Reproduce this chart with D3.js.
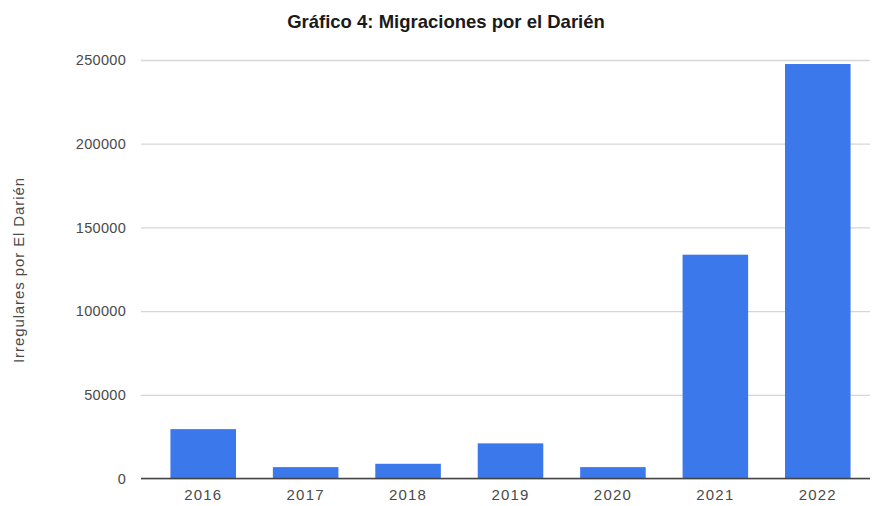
<!DOCTYPE html>
<html>
<head>
<meta charset="utf-8">
<script src="https://cdn.jsdelivr.net/npm/d3@7"></script>
<style>
  html, body { margin: 0; padding: 0; background: #fff; }
  svg { display: block; font-family: "Liberation Sans", Arial, sans-serif; }
</style>
</head>
<body>
<svg id="chart" width="884" height="506"></svg>
<script>
// Irregular crossings through the Darién gap, by year
const years = ["2016", "2017", "2018", "2019", "2020", "2021", "2022"];
const crossings = [29500, 6800, 8800, 21000, 6800, 133700, 247600];
const yTicks = [0, 50000, 100000, 150000, 200000, 250000];

const titleText = "Gráfico 4: Migraciones por el Darién";
const yTitle = "Irregulares por El Darién";

const svg = d3.select("#chart");
const plot = { left: 141, right: 870, top: 60, bottom: 478.5 };

const x = d3.scaleBand()
  .domain(years)
  .range([152, 869])
  .paddingInner(0.36)
  .paddingOuter(0.18);

const y = d3.scaleLinear()
  .domain([0, 250000])
  .range([plot.bottom, plot.top]);

// gridlines and value labels
const yAxis = d3.axisLeft(y)
  .tickValues(yTicks)
  .tickFormat(d3.format("d"))
  .tickSize(-(plot.right - plot.left))
  .tickPadding(15);

const gy = svg.append("g")
  .attr("transform", `translate(${plot.left},0)`)
  .call(yAxis);
gy.select(".domain").remove();
gy.selectAll(".tick line").attr("stroke", "#d6d6d6").attr("stroke-width", 1.3);
gy.selectAll(".tick text")
  .attr("fill", "#4a4a4a")
  .style("font-size", "14.5px")
  .style("letter-spacing", "0.3px");

// bars
svg.append("g").selectAll("rect")
  .data(years.map((yr, i) => ({ yr, v: crossings[i] })))
  .join("rect")
  .attr("x", d => x(d.yr))
  .attr("width", x.bandwidth())
  .attr("y", d => y(d.v))
  .attr("height", d => y(0) - y(d.v))
  .attr("fill", "#3b78ec");

// baseline
svg.append("line")
  .attr("x1", plot.left).attr("x2", plot.right)
  .attr("y1", y(0)).attr("y2", y(0))
  .attr("stroke", "#444").attr("stroke-width", 1.4);

// category axis
const xAxis = d3.axisBottom(x).tickSize(0).tickPadding(11);
const gx = svg.append("g")
  .attr("transform", `translate(0,${plot.bottom})`)
  .call(xAxis);
gx.select(".domain").remove();
gx.selectAll(".tick text")
  .attr("fill", "#4a4a4a")
  .style("font-size", "15px")
  .style("letter-spacing", "1.2px");

// title
svg.append("text")
  .attr("x", 446).attr("y", 28)
  .attr("text-anchor", "middle")
  .attr("fill", "#1a1a1a")
  .style("font-size", "18.5px")
  .style("font-weight", "bold")
  .text(titleText);

// vertical axis title
svg.append("text")
  .attr("transform", `translate(24,270) rotate(-90)`)
  .attr("text-anchor", "middle")
  .attr("fill", "#4a4a4a")
  .style("font-size", "15px")
  .style("letter-spacing", "0.9px")
  .text(yTitle);
</script>
</body>
</html>
